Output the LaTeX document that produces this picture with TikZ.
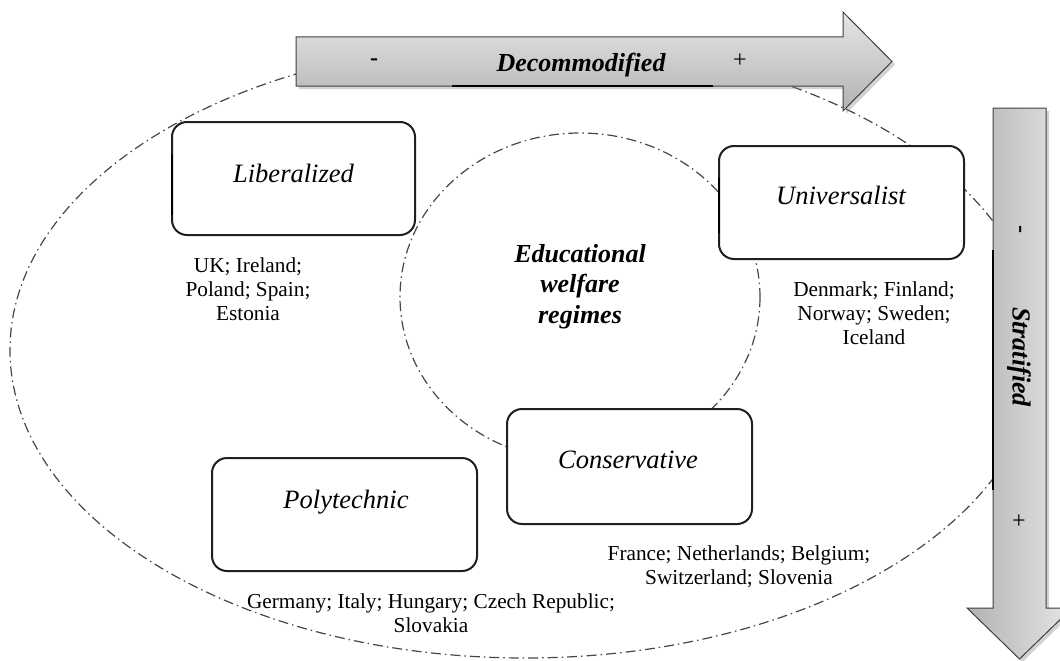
\documentclass[tikz,border=0pt]{standalone}
\usepackage{fontspec}
\setmainfont{Liberation Serif}
\usetikzlibrary{shadows}
\begin{document}
\begin{tikzpicture}[x=1pt,y=-1pt,
  regime/.style={draw=black!88,line width=2pt,fill=white,rounded corners=15pt},
  dashdot/.style={draw=black!72,line width=1.2pt,dash pattern=on 10pt off 4pt on 1.5pt off 4pt},
  boxlabel/.style={font=\fontsize{26.5}{30}\selectfont\itshape,anchor=base,inner sep=0pt},
  countries/.style={font=\fontsize{21.3}{24}\selectfont,align=center,anchor=north,inner sep=0pt},
  axislabel/.style={font=\fontsize{26}{30}\selectfont\bfseries\itshape,inner sep=0pt},
  sign/.style={font=\fontsize{24}{28}\selectfont,inner sep=0pt},
  arrowfill/.style={draw=black!75,line width=1pt,drop shadow={shadow xshift=3pt,shadow yshift=-3pt,opacity=0.35}}
]
\useasboundingbox[fill=white] (0,0) rectangle (1060,661);

% outer and inner dash-dot ellipses
\path[dashdot] (525,350) ellipse [x radius=515, y radius=308];
\path[dashdot] (580,297) ellipse [x radius=180, y radius=164];

% horizontal arrow
\path[arrowfill,top color=black!10,bottom color=black!30]
  (296,37) -- (843,37) -- (843,12) -- (892,61.5) -- (843,111) -- (843,86) -- (296,86) -- cycle;
\draw[line width=2pt,black] (452,86) -- (713,86);
\node[sign,font=\fontsize{24}{28}\selectfont\bfseries] (dminus) at (374,62) {-};
\node[axislabel,anchor=base] (decom) at (581,71) {Decommodified};
\node[sign] (dplus) at (740,61) {+};

% vertical arrow
\path[arrowfill,left color=black!30,right color=black!10]
  (993,108) -- (1046,108) -- (1046,608) -- (1072,608) -- (1019.5,659) -- (967,608) -- (993,608) -- cycle;
\draw[line width=2pt,black] (993,250) -- (993,490);
\node[sign,font=\fontsize{24}{28}\selectfont\bfseries,rotate=-90] (sminus) at (1018,229) {-};
\node[axislabel,rotate=-90] (strat) at (1019,357) {Stratified};
\node[sign] (splus) at (1019,522) {+};

% regime boxes
\path[regime] (172,122) rectangle (415,235);
\draw[line width=2.6pt,black] (172,155) -- (172,215);
\node[boxlabel] (lib) at (293.5,182) {Liberalized};

\path[regime] (719,146) rectangle (964,259);
\draw[line width=2.6pt,black] (719,178) -- (719,233);
\node[boxlabel] (uni) at (841,204) {Universalist};

\path[regime] (507,409) rectangle (752,524);
\node[boxlabel] (con) at (628,468) {Conservative};

\path[regime] (212,458) rectangle (477,571);
\node[boxlabel] (poly) at (346,508) {Polytechnic};

% centre label
\node[axislabel,align=center,anchor=north,font=\fontsize{26}{30.5}\selectfont\bfseries\itshape] (edu) at (580,244) {Educational\\welfare\\regimes};

% country lists
\node[countries] (libc) at (248,257.5) {UK; Ireland;\\Poland; Spain;\\Estonia};
\node[countries] (unic) at (874,281.5) {Denmark; Finland;\\Norway; Sweden;\\Iceland};
\node[countries] (conc) at (739,545.5) {France; Netherlands; Belgium;\\Switzerland; Slovenia};
\node[countries] (polyc) at (431,593.5) {Germany; Italy; Hungary; Czech Republic;\\Slovakia};
\end{tikzpicture}
\end{document}
